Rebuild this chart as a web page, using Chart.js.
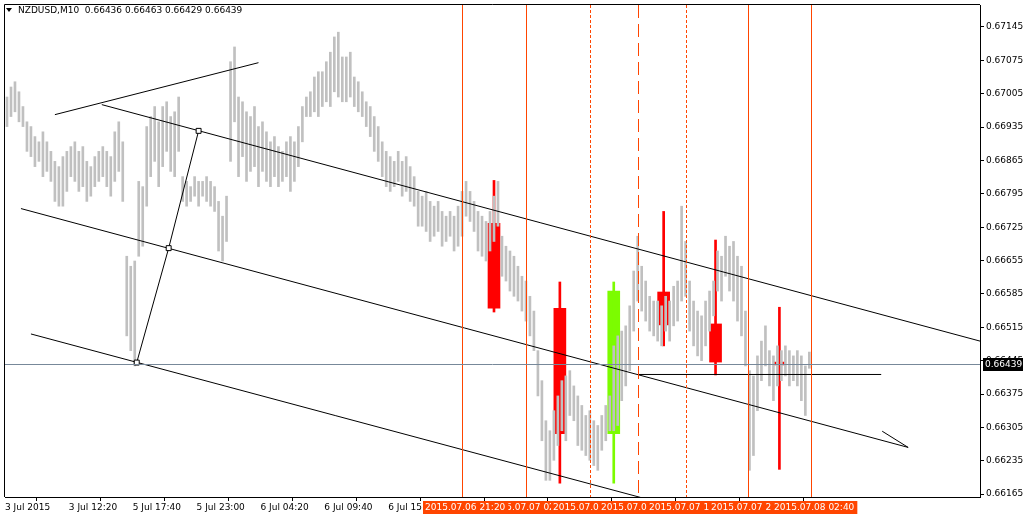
<!DOCTYPE html>
<html>
<head>
<meta charset="utf-8">
<script src="https://cdn.jsdelivr.net/npm/chart.js@4.4.1/dist/chart.umd.min.js"></script>
<style>
html,body{margin:0;padding:0;background:#fff;}
#wrap{width:1024px;height:516px;}
</style>
</head>
<body>
<div id="wrap"><canvas id="chart" width="1024" height="516"></canvas></div>
<script>
const symbolTitle="NZDUSD,M10  0.66436 0.66463 0.66429 0.66439";
const bidPrice=0.66439;

// M10 bars (one entry per bar, left to right)
const highs=[
0.66998,0.67019,0.67030,0.67009,0.66978,0.66946,0.66936,0.66915,0.66904,0.66925,
0.66904,0.66884,0.66863,0.66852,0.66873,0.66884,0.66894,0.66904,0.66884,0.66894,
0.66863,0.66852,0.66873,0.66884,0.66894,0.66884,0.66873,0.66925,0.66946,0.66904,
0.66664,0.66643,0.66654,0.66821,0.66810,0.66936,0.66957,0.66978,0.66946,0.66978,
0.66988,0.66957,0.66967,0.66998,0.66831,0.66821,0.66810,0.66831,0.66821,0.66821,
0.66831,0.66821,0.66810,0.66779,0.66748,0.66790,0.67072,0.67103,0.66998,0.66988,
0.66967,0.66957,0.66978,0.66936,0.66946,0.66925,0.66904,0.66915,0.66894,0.66884,
0.66904,0.66915,0.66904,0.66936,0.66978,0.66998,0.67009,0.67040,0.67051,0.67051,
0.67072,0.67092,0.67124,0.67134,0.67082,0.67082,0.67092,0.67040,0.67030,0.67009,
0.66988,0.66978,0.66957,0.66936,0.66904,0.66884,0.66873,0.66863,0.66884,0.66863,
0.66873,0.66852,0.66831,0.66800,0.66790,0.66800,0.66779,0.66769,0.66779,0.66758,
0.66748,0.66758,0.66748,0.66769,0.66800,0.66821,0.66800,0.66779,0.66758,0.66748,
0.66737,0.66758,0.66790,0.66821,0.66706,0.66685,0.66675,0.66664,0.66643,0.66622,
0.66612,0.66580,0.66549,0.66466,0.66403,0.66319,0.66298,0.66340,0.66371,0.66403,
0.66413,0.66424,0.66392,0.66371,0.66351,0.66330,0.66340,0.66319,0.66309,0.66330,
0.66351,0.66371,0.66476,0.66497,0.66507,0.66518,0.66560,0.66633,0.66706,0.66643,
0.66612,0.66580,0.66570,0.66570,0.66560,0.66580,0.66570,0.66601,0.66612,0.66769,
0.66695,0.66612,0.66570,0.66549,0.66539,0.66570,0.66591,0.66612,0.66675,0.66664,
0.66706,0.66685,0.66695,0.66664,0.66643,0.66549,0.66424,0.66413,0.66455,0.66486,
0.66518,0.66466,0.66455,0.66476,0.66466,0.66476,0.66466,0.66455,0.66466,0.66455,
0.66434,0.66463];
const lows=[
0.66936,0.66957,0.66967,0.66946,0.66936,0.66884,0.66873,0.66852,0.66863,0.66831,
0.66842,0.66821,0.66779,0.66769,0.66769,0.66800,0.66831,0.66821,0.66800,0.66810,
0.66779,0.66790,0.66810,0.66821,0.66831,0.66810,0.66790,0.66821,0.66842,0.66779,
0.66497,0.66466,0.66434,0.66664,0.66685,0.66769,0.66831,0.66863,0.66810,0.66852,
0.66884,0.66842,0.66831,0.66884,0.66779,0.66769,0.66779,0.66790,0.66769,0.66790,
0.66779,0.66769,0.66758,0.66675,0.66654,0.66695,0.66863,0.66946,0.66831,0.66873,
0.66821,0.66842,0.66852,0.66810,0.66842,0.66821,0.66810,0.66831,0.66810,0.66821,
0.66831,0.66800,0.66821,0.66852,0.66904,0.66957,0.66957,0.66967,0.66957,0.66978,
0.66988,0.66978,0.67009,0.66998,0.66988,0.66988,0.66998,0.66978,0.66967,0.66957,
0.66936,0.66915,0.66884,0.66863,0.66831,0.66810,0.66800,0.66810,0.66821,0.66790,
0.66800,0.66779,0.66769,0.66727,0.66727,0.66716,0.66695,0.66706,0.66716,0.66685,
0.66695,0.66706,0.66675,0.66685,0.66706,0.66748,0.66737,0.66716,0.66675,0.66664,
0.66654,0.66675,0.66695,0.66727,0.66622,0.66612,0.66591,0.66580,0.66570,0.66549,
0.66528,0.66497,0.66466,0.66371,0.66277,0.66194,0.66194,0.66236,0.66267,0.66298,
0.66277,0.66330,0.66319,0.66267,0.66257,0.66246,0.66236,0.66225,0.66215,0.66257,
0.66277,0.66298,0.66298,0.66309,0.66361,0.66392,0.66424,0.66507,0.66570,0.66549,
0.66528,0.66507,0.66497,0.66486,0.66476,0.66507,0.66486,0.66518,0.66528,0.66570,
0.66580,0.66507,0.66476,0.66455,0.66445,0.66476,0.66507,0.66539,0.66591,0.66570,
0.66622,0.66591,0.66570,0.66528,0.66497,0.66434,0.66215,0.66246,0.66340,0.66403,
0.66434,0.66392,0.66361,0.66392,0.66403,0.66413,0.66392,0.66403,0.66392,0.66361,
0.66330,0.66429];

// higher timeframe candles drawn on top (bar position, OHLC)
const candleX=[122,138.5,152,164.5,177.5,193.5];
const candleOpen=[0.66733,0.66555,0.66292,0.66589,0.66522,0.66442];
const candleHigh=[0.66823,0.66610,0.66610,0.66758,0.66698,0.66557];
const candleLow=[0.66547,0.66188,0.66188,0.66476,0.66415,0.66217];
const candleClose=[0.66555,0.66292,0.66591,0.66520,0.66442,0.66436];

// vertical lines
const vlineX=[114,130,146,158,170,185.75,201.5];
const vlineTimes=["2015.07.06 21:20","2015.07.07 02:40","2015.07.07 08:00","2015.07.07 12:00","2015.07.07 16:00","2015.07.07 21:20","2015.07.08 02:40"];
const vlineStyle=["solid","solid","dot","dash","dot","solid","solid"];

// axes
const timeTicks=[-0.5,15.5,31.5,47.5,63.5,79.5,95.5,111.5,127.5,143.5,159.5,175.5,191.5];
const timeLabels=["3 Jul 2015","3 Jul 12:20","5 Jul 17:40","5 Jul 23:00","6 Jul 04:20","6 Jul 09:40","6 Jul 15:00","","","","","",""];
const priceTicks=[0.66165,0.66235,0.66305,0.66375,0.66445,0.66515,0.66585,0.66655,0.66725,0.66795,0.66865,0.66935,0.67005,0.67075,0.67145];

// drawn objects (bar position, price)
const trendUp=[[12,0.66961],[63,0.67070]];
const channelTop=[[23.75,0.66982],[243.75,0.66486]];
const channelMid=[[3.5,0.66764],[225.75,0.66263]];
const channelArrow=[[219.25,0.66297],[225.75,0.66263]];
const channelLow=[[6,0.66501],[158.75,0.66158]];
const channelAnchors=[[32.5,0.66441],[40.5,0.66681],[48,0.66927]];
const levelLine=[[158,0.66416],[219,0.66416]];

const pts=a=>a.map(p=>({x:p[0],y:p[1]}));
function seg(a){
return {type:"line",data:pts(a),borderColor:"#000",borderWidth:1,pointRadius:0,order:2};
}

const decor={
id:"decor",
afterDatasetsDraw(c){
const ctx=c.ctx,a=c.chartArea,xs=c.scales.x,ys=c.scales.y;
ctx.save();
ctx.beginPath();ctx.rect(a.left,a.top,a.right-a.left,a.bottom-a.top);ctx.clip();
ctx.strokeStyle="#ff4500";ctx.lineWidth=1;
vlineX.forEach((v,k)=>{
const x=Math.round(xs.getPixelForValue(v))+0.5;
ctx.setLineDash(vlineStyle[k]=="dot"?[3,2]:vlineStyle[k]=="dash"?[13,6]:[]);
ctx.beginPath();ctx.moveTo(x,a.top);ctx.lineTo(x,a.bottom);ctx.stroke();
});
ctx.setLineDash([]);
const y=Math.round(ys.getPixelForValue(bidPrice))+0.5;
ctx.strokeStyle="#778899";
ctx.beginPath();ctx.moveTo(a.left,y);ctx.lineTo(a.right,y);ctx.stroke();
ctx.restore();
},
afterDraw(c){
const ctx=c.ctx,a=c.chartArea,xs=c.scales.x,ys=c.scales.y;
ctx.save();
ctx.strokeStyle="#000";ctx.lineWidth=1;
ctx.beginPath();
ctx.moveTo(a.left-0.5,a.bottom);ctx.lineTo(a.left-0.5,a.top-0.5);ctx.lineTo(a.right,a.top-0.5);
ctx.stroke();
ctx.font="9px 'DejaVu Sans'";
ctx.textBaseline="middle";
// time labels of vertical lines
[1,0,2,3,4,5,6].forEach(k=>{
const x=Math.round(xs.getPixelForValue(vlineX[k]));
const w=ctx.measureText(vlineTimes[k]).width;
ctx.fillStyle="#ff4500";
ctx.fillRect(x-39,501,w+5,13);
ctx.fillStyle="#fff";
ctx.fillText(vlineTimes[k],x-37,508);
});
// bid price label
const y=Math.round(ys.getPixelForValue(bidPrice));
ctx.fillStyle="#000";
ctx.fillRect(983,y-6,40,13);
ctx.fillStyle="#fff";
ctx.fillText(bidPrice.toFixed(5),985,y+1);
// title
ctx.fillStyle="#000";
ctx.beginPath();ctx.moveTo(6,8);ctx.lineTo(12,8);ctx.lineTo(9,12);ctx.closePath();ctx.fill();
ctx.fillText(symbolTitle,18,11);
ctx.restore();
}
};

Chart.defaults.font.family="'DejaVu Sans'";
Chart.defaults.font.size=9;
Chart.defaults.color="#000";

new Chart(document.getElementById("chart"),{
type:"bar",
data:{
datasets:[
{type:"line",data:pts(channelAnchors),borderColor:"#000",borderWidth:1,pointStyle:"rect",pointRadius:3.5,
pointBackgroundColor:"#fff",pointBorderColor:"#000",pointBorderWidth:1,order:1},
seg(trendUp),seg(channelTop),seg(channelMid),seg(channelArrow),seg(channelLow),seg(levelLine),
{data:highs.map((h,i)=>({x:i,y:[lows[i],h]})),backgroundColor:"#c0c0c0",barThickness:2,grouped:false,order:5},
{data:candleX.map((x,k)=>({x:x,y:[candleLow[k],candleHigh[k]]})),
backgroundColor:candleX.map((x,k)=>candleClose[k]>=candleOpen[k]?"#7cfc00":"#ff0000"),barThickness:2,grouped:false,order:7},
{data:candleX.map((x,k)=>({x:x,y:[candleOpen[k],candleClose[k]]})),
backgroundColor:candleX.map((x,k)=>candleClose[k]>=candleOpen[k]?"#7cfc00":"#ff0000"),barThickness:12,grouped:false,order:8}
]
},
options:{
responsive:false,
animation:false,
events:[],
layout:{padding:{left:3,top:3,right:0,bottom:0}},
plugins:{legend:{display:false},tooltip:{enabled:false}},
scales:{
x:{type:"linear",min:-0.5,max:243.75,offset:false,
grid:{drawOnChartArea:false,tickLength:4,color:"#000"},
border:{color:"#000"},
ticks:{align:"start",maxRotation:0,autoSkip:false,padding:1,
callback:(v,i)=>timeLabels[i]},
afterBuildTicks:s=>{s.ticks=timeTicks.map(v=>({value:v}));},
afterFit:s=>{s.height=19;s.paddingLeft=0;s.paddingRight=0;}
},
y:{type:"linear",position:"right",min:0.66159,max:0.67191,
grid:{drawOnChartArea:false,tickLength:4,color:"#000"},
border:{color:"#000"},
ticks:{padding:2,autoSkip:false,callback:v=>v.toFixed(5)},
afterBuildTicks:s=>{s.ticks=priceTicks.map(v=>({value:v}));},
afterFit:s=>{s.width=44;s.paddingTop=0;s.paddingBottom=0;}
}
}
},
plugins:[decor]
});
</script>
</body>
</html>
